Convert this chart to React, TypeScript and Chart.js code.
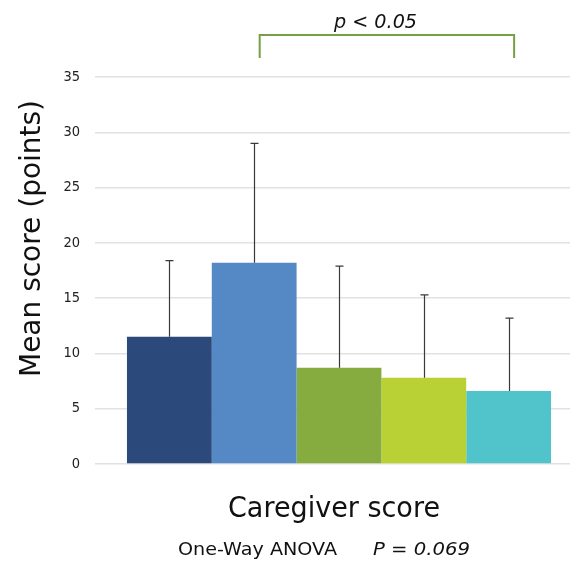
import React, { useEffect, useRef } from "react";
import { Chart, registerables } from "chart.js";

Chart.register(...registerables);

// ---- data ----
const groups = ["Group 1", "Group 2", "Group 3", "Group 4", "Group 5"];
const means = [11.5, 18.2, 8.7, 7.8, 6.6];
const sds = [6.9, 10.8, 9.2, 7.5, 6.6];
const colors = ["#2B4A7B", "#5589C5", "#86AB3F", "#B9D135", "#51C3CB"];
const yMin = 0;
const yMax = 35;
const yStep = 5;
const xTitle = "Caregiver score";
const yTitle = "Mean score (points)";
const sigLabel = "p < 0.05";
const sigPair = [1, 4];
const anovaLabel = "One-Way ANOVA";
const anovaP = "P = 0.069";

const FONT = "'DejaVu Sans', sans-serif";

function drawFitted(
  ctx: CanvasRenderingContext2D,
  text: string,
  x: number,
  y: number,
  font: string,
  width: number,
  rotate = 0
) {
  ctx.save();
  ctx.font = font;
  const w = ctx.measureText(text).width;
  const sx = width / w;
  ctx.translate(x, y);
  if (rotate) ctx.rotate(rotate);
  ctx.scale(sx, 1);
  ctx.textAlign = "left";
  ctx.textBaseline = "alphabetic";
  ctx.fillText(text, 0, 0);
  ctx.restore();
}

const overlayPlugin = {
  id: "overlay",
  afterDatasetsDraw(chart: any) {
    const ctx: CanvasRenderingContext2D = chart.ctx;
    const yScale = chart.scales.y;
    // error bars (upper only)
    ctx.save();
    ctx.strokeStyle = "#3a3a3a";
    ctx.lineWidth = 1.2;
    chart.data.datasets.forEach((ds: any, i: number) => {
      const bar = chart.getDatasetMeta(i).data[0];
      if (!bar) return;
      const x = Math.round(bar.x) + 0.5;
      const yb = bar.y;
      const yt = yScale.getPixelForValue(means[i] + sds[i]);
      ctx.beginPath();
      ctx.moveTo(x, yb);
      ctx.lineTo(x, yt);
      ctx.moveTo(x - 4, yt);
      ctx.lineTo(x + 4, yt);
      ctx.stroke();
    });
    ctx.restore();

    // significance bracket
    const a = chart.getDatasetMeta(sigPair[0]).data[0];
    const b = chart.getDatasetMeta(sigPair[1]).data[0];
    const top = chart.chartArea.top;
    if (a && b) {
      const x1 = a.x + 5.5;
      const x2 = b.x + 5.5;
      const yTop = top - 42;
      const yLeg = top - 19;
      ctx.save();
      ctx.strokeStyle = "#76A043";
      ctx.lineWidth = 2;
      ctx.beginPath();
      ctx.moveTo(x1, yLeg);
      ctx.lineTo(x1, yTop);
      ctx.lineTo(x2, yTop);
      ctx.lineTo(x2, yLeg);
      ctx.stroke();
      ctx.restore();
    }

    // texts
    ctx.save();
    ctx.fillStyle = "#111111";
    drawFitted(ctx, sigLabel, 334, 28, `italic 19px ${FONT}`, 83);
    drawFitted(ctx, xTitle, 228, 517, `29px ${FONT}`, 212);
    drawFitted(ctx, anovaLabel, 178, 555, `18px ${FONT}`, 159);
    drawFitted(ctx, anovaP, 373, 555, `italic 18.5px ${FONT}`, 97);
    drawFitted(ctx, yTitle, 40, 377, `29px ${FONT}`, 277, -Math.PI / 2);
    ctx.restore();
  },
};

export default function App() {
  const ref = useRef<HTMLCanvasElement | null>(null);

  useEffect(() => {
    const canvas = ref.current;
    if (!canvas) return;
    const chart = new Chart(canvas, {
      type: "bar",
      data: {
        labels: [""],
        datasets: groups.map((g, i) => ({
          label: g,
          data: [means[i]],
          backgroundColor: colors[i],
          borderWidth: 0,
          barPercentage: 1,
          categoryPercentage: 0.869,
        })),
      },
      options: {
        responsive: false,
        animation: false,
        events: [],
        layout: { padding: { top: 77, bottom: 99, left: 0, right: 0 } },
        plugins: {
          legend: { display: false },
          tooltip: { enabled: false },
          title: { display: false },
        },
        scales: {
          x: { display: false },
          y: {
            min: yMin,
            max: yMax,
            ticks: {
              stepSize: yStep,
              color: "#222222",
              padding: 15,
              font: { family: "'DejaVu Sans Condensed', 'DejaVu Sans', sans-serif", size: 14.5 },
            },
            grid: { color: "#e2e2e2", lineWidth: 1.5, drawTicks: false },
            border: { display: false },
            afterFit: (s: any) => {
              s.width = 95;
            },
          },
        },
      },
      plugins: [overlayPlugin],
    } as any);
    return () => chart.destroy();
  }, []);

  return (
    <div
      style={{
        position: "absolute",
        left: 0,
        top: 0,
        width: 570,
        height: 563,
        overflow: "hidden",
        background: "#ffffff",
      }}
    >
      <canvas ref={ref} width={583} height={563} style={{ display: "block", width: 583, height: 563 }} />
    </div>
  );
}
